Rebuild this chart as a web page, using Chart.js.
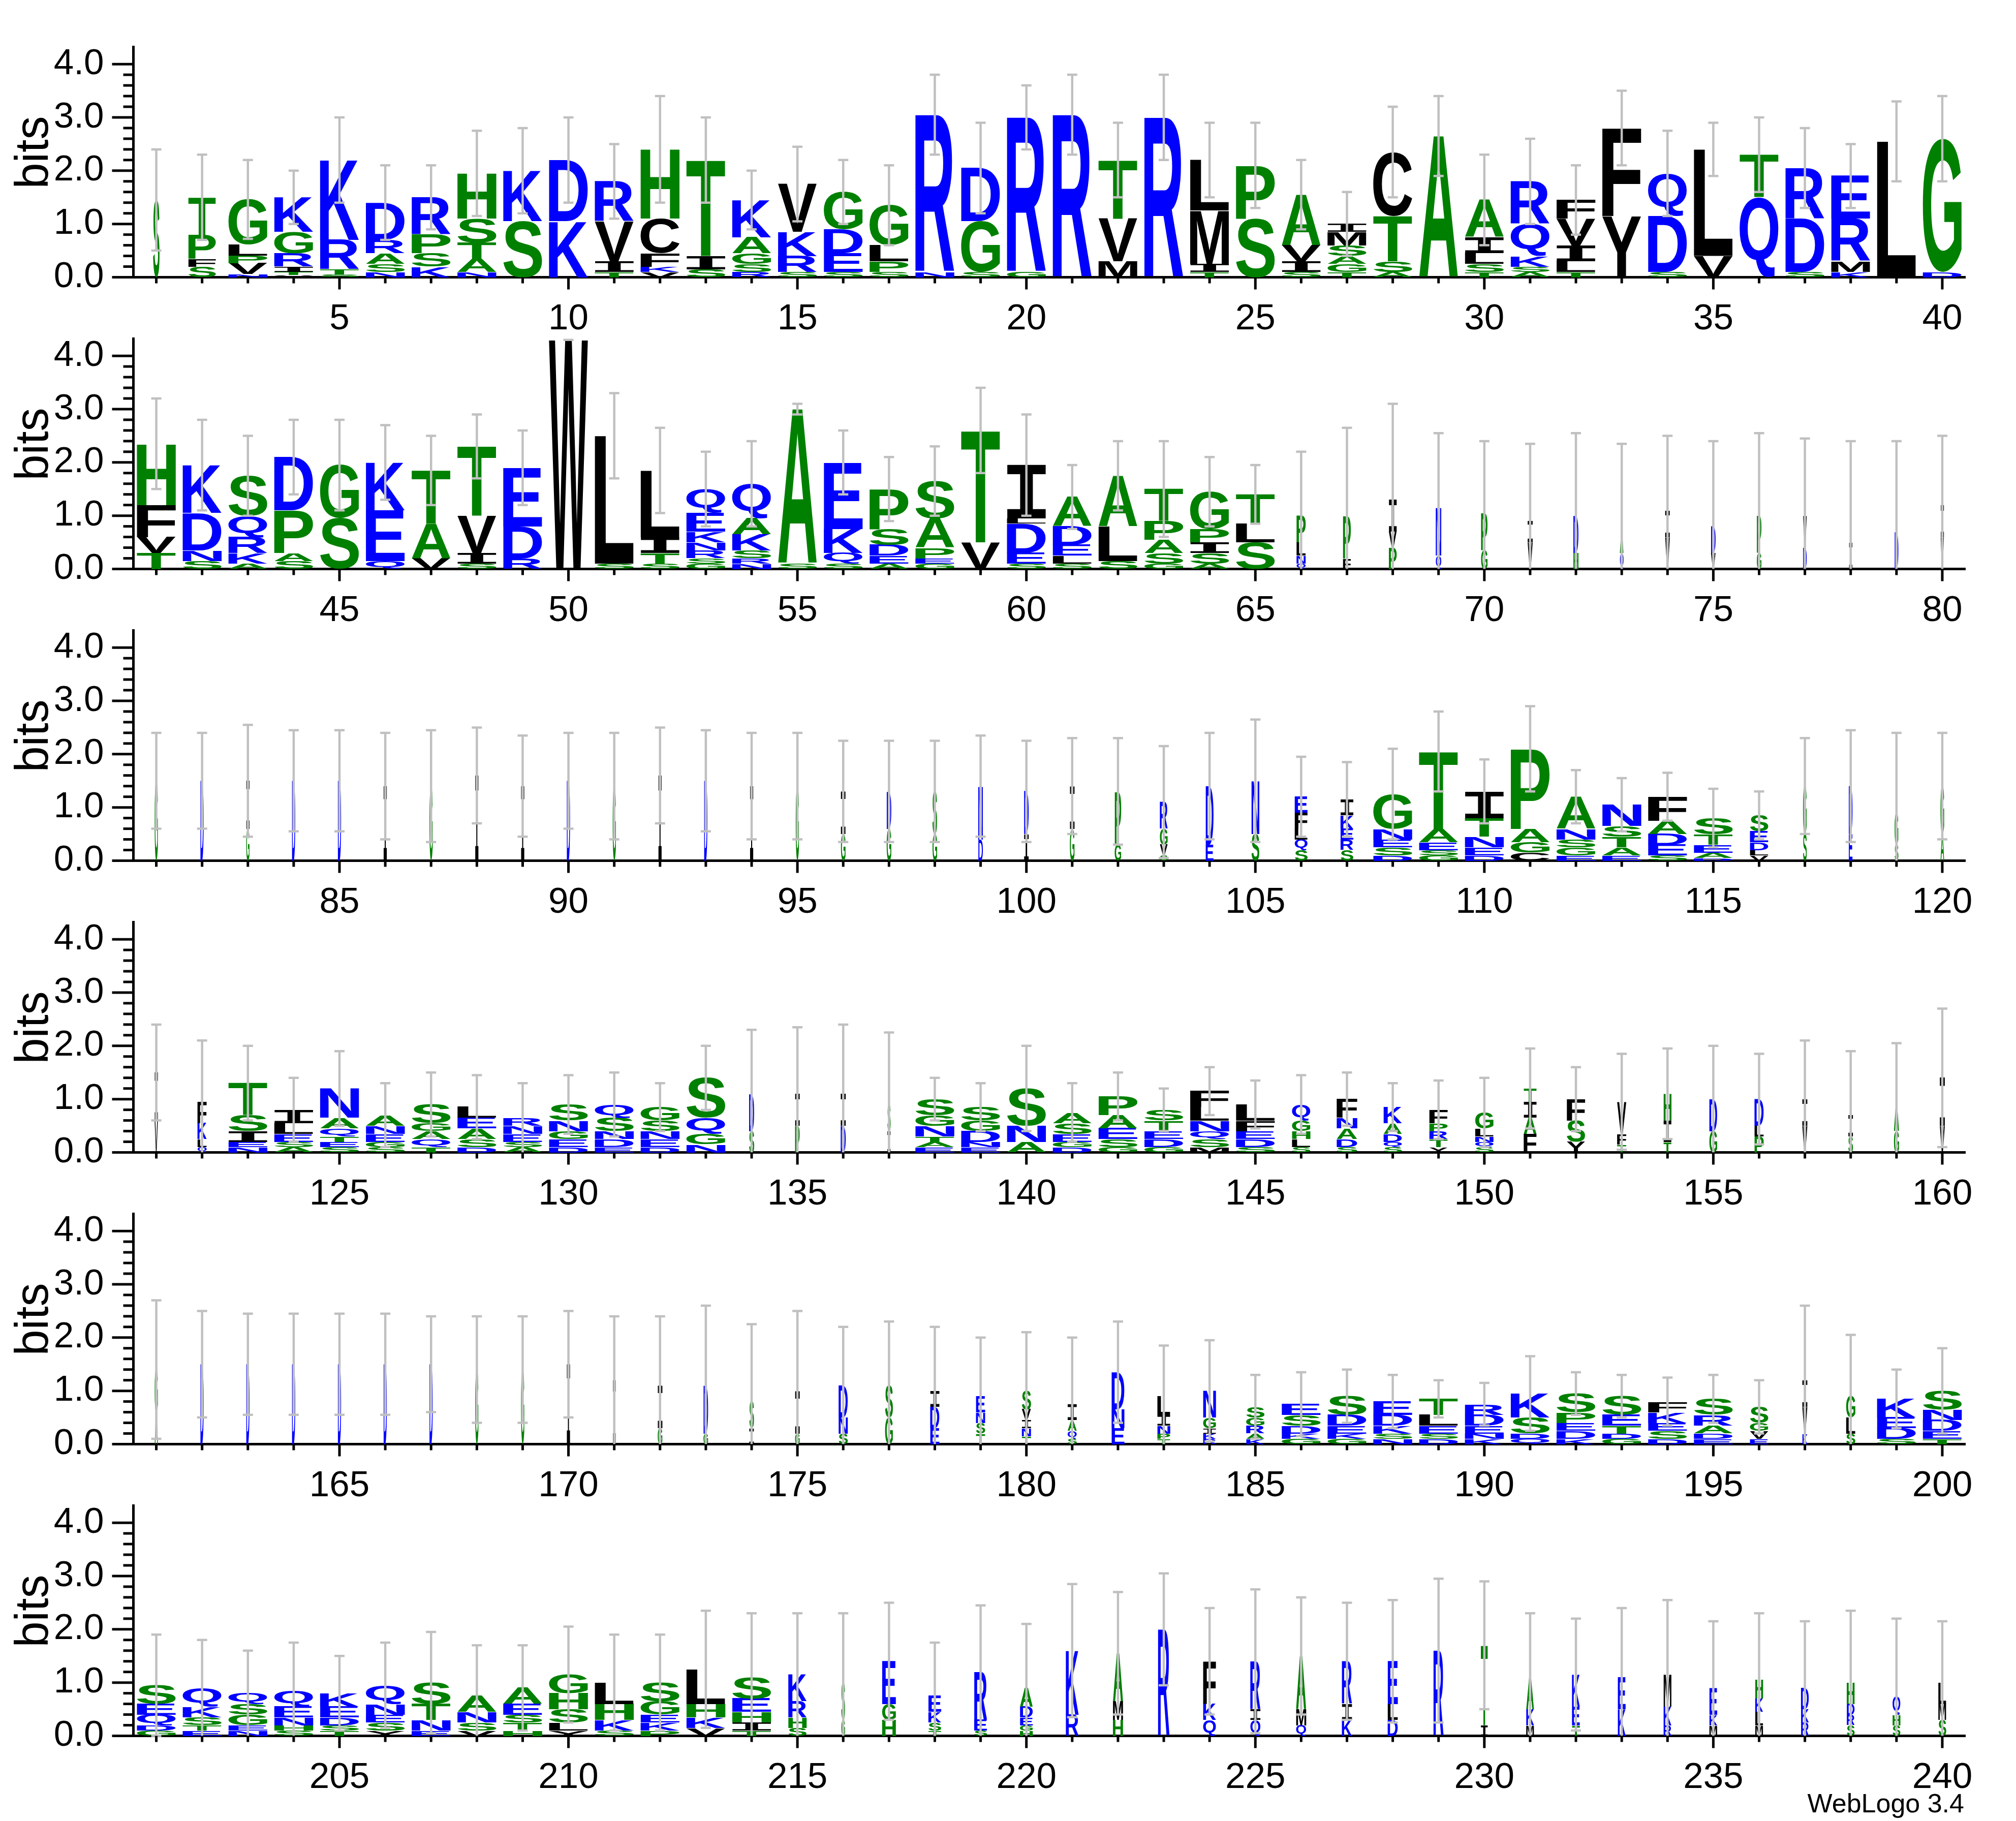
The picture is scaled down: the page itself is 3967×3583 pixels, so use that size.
<!DOCTYPE html>
<html>
<head>
<meta charset="utf-8">
<script src="https://cdn.jsdelivr.net/npm/chart.js@4"></script>
<style>
  body { margin: 0; background: #fff; }
  #wrap { position: relative; width: 3967px; height: 3583px; }
  .row { position: absolute; left: 0; width: 3967px; height: 660px; }
  #credit { position: absolute; right: 102px; top: 3518px; font: 52px "Liberation Sans", Arial, sans-serif; color: #000; }
</style>
</head>
<body>
<div id="wrap">
  <div class="row" style="top:0px"><canvas id="r0"></canvas></div>
  <div class="row" style="top:574px"><canvas id="r1"></canvas></div>
  <div class="row" style="top:1148px"><canvas id="r2"></canvas></div>
  <div class="row" style="top:1722px"><canvas id="r3"></canvas></div>
  <div class="row" style="top:2296px"><canvas id="r4"></canvas></div>
  <div class="row" style="top:2870px"><canvas id="r5"></canvas></div>
  <div id="credit">WebLogo 3.4</div>
</div>
<script>
// each column: "width|Letter height ..." listed top to bottom (width optional, heights in bits)
const row1 = ['.14|S1.45','.6|T.7 P.45 F.15 S.2','G.85 L.2 P.15 V.2 N.06','K.65 G.4 R.25 I.1 T.06 V.04','K1.5 R.55 T.1 S.05',
  'D.7 R.25 A.2 S.15 N.1','R.7 P.35 S.25 K.2','H.85 S.45 T.3 A.25 N.1','K.95 S1.05','D1.15 K1.05',
  'R.75 V.75 I.2 T.1','H1.3 C.65 F.25 K.1 V.1','T1.8 I.25 S.15','K.7 A.3 G.2 S.15 R.1','V.9 K.45 R.3 S.1',
  'G.7 D.45 E.35 S.1','G.75 L.3 P.2 S.1','R2.95 N.1','D1.0 G.95 S.1','R2.9 G.1',
  'R3.05','T1.1 V.8 M.3','R3.0','L.95 M1.0 I.15 T.1','P1.0 S1.1',
  'A.95 V.3 I.2 S.1','I.15 M.25 S.2 A.15 G.15 T.1','C1.2 T.85 S.2 A.1','A2.65','A.7 I.3 L.2 S.15 T.1',
  'R.8 Q.6 K.2 S.1 A.1','F.35 V.5 I.3 L.2 T.1','F1.65 Y1.15','Q.8 D1.05 S.1','L2.0 V.4',
  'T.8 Q1.5','R.95 D1.0 S.1','E.8 R.8 M.2 K.1','L2.55','G2.5 D.1'];
const err1 = [2.4,2.3,2.2,2.0,3.0,2.1,2.1,2.75,2.8,3.0,2.5,3.4,3.0,2.0,2.45,2.2,2.1,3.8,2.9,3.6,
  3.8,2.9,3.8,2.9,2.9,2.2,1.6,3.2,3.4,2.3,2.6,2.1,3.5,2.75,2.9,3.0,2.8,2.5,3.3,3.4];

const row2 = ['H1.15 F.6 V.3 T.3','K.9 D.7 N.2 S.15','S.75 Q.4 R.3 K.2 A.1','D1.0 P.8 A.15 S.15','G1.0 S.95',
  'K.9 E.95 Q.15','T1.0 A.65 V.2','T1.3 V.7 I.2 S.1','E1.1 D.6 R.2','W4.3',
  'L2.4 S.1','L1.25 I.3 T.2 S.1','Q.45 E.35 K.2 N.15 R.15 S.1 G.1','Q.65 A.3 K.3 S.15 R.1 N.1','A2.9 S.1',
  'E1.25 K.45 Q.2 S.1','P.75 S.3 D.2 E.15 A.1','S.7 A.55 P.2 E.1 G.1','T2.1 V.5','I1.0 L.1 D.55 E.2 S.1',
  'A.55 D.35 E.2 L.15 S.1','A.95 L.65 S.15','T.6 P.35 A.25 S.2 G.1','G.7 P.25 I.2 S.2 A.1','T.55 L.35 S.5',
  '.2|P.5 L.25 N.15 Q.1','.17|P.8 F.2','.17|I.6 V.3 P.4','.12|N.9 Q.25','.14|P.7 G.35',
  '.11|I.4 V.5','.11|D.7 H.3','.08|A.4 Q.3','.1|I.5 V.6','.1|D.5 V.3',
  '.1|P.7 G.3','.08|V.6 D.4','.07|I.5','.08|D.7','.07|I.6 V.6'];
const err2 = [3.2,2.8,2.5,2.8,2.8,2.7,2.5,2.9,2.6,4.3,3.3,2.65,2.2,2.4,3.1,2.6,2.1,2.3,3.4,2.9,
  1.95,2.4,2.4,2.1,1.95,2.2,2.65,3.1,2.55,2.4,2.35,2.55,2.35,2.5,2.4,2.55,2.45,2.4,2.4,2.5];

const row3 = ['.07|G1.5','.07|D1.5','.07|I.9 G.6','.07|D1.5','.07|D1.5',
  '.07|I1.4','.07|G1.4','.07|I1.6','.07|I1.4','.07|D1.5',
  '.07|G1.4','.07|I1.6','.07|D1.5','.07|I1.4','.07|G1.4',
  '.1|I.8 G.5','.1|D.7 G.6','.1|S.8 G.5','.1|N1.0 D.4','.1|D.8 I.5',
  '.1|I.8 G.6','.14|P1.0 G.3','.17|R.5 G.3 V.2 S.1','.17|D1.1 E.3','.17|N1.0 S.5',
  '.28|E.3 F.3 L.2 Q.2 S.2','.28|I.3 K.25 E.2 R.2 S.2','G.65 N.2 E.15 S.15 D.1','T1.45 A.25 E.15 S.1 G.1','I.5 T.35 N.2 E.15 D.1',
  'P1.5 A.25 G.2 C.15','A.6 N.2 S.15 G.15 E.1','N.4 S.2 T.2 A.15 E.1','F.45 A.25 D.2 E.2 S.1','S.3 T.2 E.15 A.1 D.05',
  '.4|S.3 E.2 D.15 L.1 V.1','.08|G.9 S.5','.08|D.9 E.5','.08|G.6 S.3','.08|G.9 A.5'];
const err3 = [2.4,2.4,2.55,2.45,2.45,2.4,2.45,2.5,2.35,2.4,2.4,2.5,2.45,2.4,2.4,2.25,2.25,2.25,2.35,2.25,
  2.3,2.3,2.15,2.4,2.65,1.95,1.85,2.1,2.8,1.9,2.9,1.7,1.55,1.65,1.35,1.3,2.3,2.45,2.4,2.4];

const row4 = ['.07|I.9 V.6','.2|F.4 K.3 L.15 Q.1','T.6 S.3 I.2 E.1 N.1','I.25 L.2 E.15 S.1 A.1','N.55 A.2 Q.15 T.1 E.1 S.1',
  'A.2 N.15 E.15 G.1 S.1','S.35 G.15 A.15 Q.15 T.1','L.2 E.2 A.2 S.15 D.1','R.15 N.15 E.15 S.1 A.1','S.3 N.2 G.15 E.15 D.1',
  'Q.25 S.25 N.15 D.15 E.1','G.25 S.2 N.15 E.15 D.1','S.75 Q.3 G.2 N.15','.11|D.7 S.4','.1|I.6 P.5',
  '.11|I.6 D.5','.07|S.5 I.4','S.3 G.2 N.2 T.1 A.1 E.1','S.25 G.2 D.2 N.1 E.1','S.7 N.3 A.2',
  'A.2 S.2 E.15 G.1 D.1','P.35 A.25 E.2 S.15 G.1','S.2 T.2 E.15 D.15 G.1','F.3 L.25 N.2 Q.15 S.15 M.1','L.3 F.2 E.15 D.15 S.1',
  '.4|Q.3 G.2 H.15 L.15 S.1','.45|F.35 N.2 A.2 D.15 S.1','.4|K.3 A.2 D.15 Q.1 S.1','.4|F.25 P.15 R.15 T.15 Y.1','.4|G.3 L.15 N.1 Q.1 S.1',
  '.28|T.25 I.3 A.3 F.35','.4|F.4 S.4 Y.2','.2|V.6 F.2 T.15','.17|H.5 I.4 T.2','.17|D.6 G.4',
  '.2|D.5 L.2 P.3','.11|I.5 V.5','.1|I.4 S.3','.11|A.5 G.4','.11|I.9 V.5'];
const err4 = [2.4,2.1,2.0,1.4,1.9,1.3,1.5,1.45,1.3,1.45,1.5,1.3,2.0,2.3,2.35,2.4,2.25,1.4,1.3,2.0,
  1.3,1.5,1.2,1.6,1.35,1.45,1.5,1.3,1.35,1.4,1.95,1.6,1.85,1.95,2.0,1.85,2.1,1.9,2.05,2.7];

const row5 = ['.07|G.8 A.6','.07|D1.5','.07|D1.5','.07|D1.5','.07|D1.5',
  '.07|D1.5','.07|D1.5','.07|G1.4','.07|G1.4','.07|I1.5',
  '.06|I1.2','.1|I.8 G.3','.1|D.9 G.2','.1|S.5 I.3','.1|I.8 G.2',
  '.2|D.6 N.3 S.2','.17|S.6 G.5','.2|I.3 D.4 E.3','.2|E.3 N.2 S.2 T.2','.2|S.35 V.2 I.15 N.15 T.15',
  '.2|I.3 A.2 Q.15 S.1','.28|D.7 N.35 E.3','.28|L.35 I.2 N.15 P.1 T.1','.28|N.5 G.2 I.1 K.1 R.1','.4|S.2 G.15 R.15 A.1 K.1',
  'E.2 S.2 D.15 K.1 G.1','S.35 D.2 E.15 K.1 G.1','E.25 D.2 K.15 S.1 N.1','T.3 L.2 E.15 S.1 D.1','R.2 D.2 E.15 N.1 K.1',
  'K.45 S.3 D.1 Q.1','S.35 P.2 E.15 D.15 K.1','S.35 E.2 T.15 D.1 G.1','F.2 K.2 E.15 S.15 D.1','S.3 R.2 A.15 D.1 E.1',
  '.4|S.3 G.15 V.15 E.1','.11|I.5 V.5 K.2','.2|G.4 L.3 S.2','K.35 E.2 D.2 S.1','S.35 N.2 D.2 E.15 T.1'];
const err5 = [2.7,2.5,2.45,2.45,2.45,2.45,2.4,2.4,2.4,2.5,2.4,2.4,2.6,2.25,2.5,2.2,2.3,2.2,2.0,2.1,
  2.0,2.3,1.85,1.95,1.3,1.35,1.4,1.3,1.2,1.15,1.65,1.35,1.3,1.25,1.3,1.2,2.6,2.05,1.4,1.8];

const row6 = ['S.35 E.2 Q.2 D.1 G.1','Q.35 K.2 S.15 T.1 E.1','Q.2 S.2 G.2 E.1 N.1','Q.3 E.2 N.15 H.1 S.1','K.25 E.2 D.15 S.1 T.1',
  'Q.35 N.2 E.15 S.15 Y.1','S.4 T.3 N.2 E.1','A.3 N.2 S.15 V.1','A.3 E.2 S.15 T.15 H.1','G.35 H.3 S.25 L.15 Y.1',
  'L.4 H.3 K.2 S.1','S.35 G.25 E.15 K.15 P.1','L.65 H.25 K.2 V.15','S.4 E.25 H.2 I.15 T.1','.4|K.5 R.3 H.2 S.15',
  '.08|S.7 G.3','.3|E.8 G.3 H.3','.28|E.3 K.2 S.15 T.1','.28|R.9 E.2 S.1','.28|A.35 D.2 E.15 G.1 H.1',
  '.28|K1.2 R.4','.22|A.9 M.35 H.3','.25|R2.0','.28|F.8 K.3 Q.3','.22|R.9 I.2 Q.3',
  '.22|A1.0 M.3 Q.2','.22|R.8 I.3 K.3','.22|E.8 L.3 D.3','.22|R1.6','.15|T1.5 I.2',
  '.17|A.6 K.3 M.2','.17|K.6 E.35 T.2','.17|E.6 K.5','.17|M.6 K.35 R.2','.17|E.5 K.2 M.2',
  '.17|H.35 K.25 L.25 M.2','.17|D.4 K.25 R.25','.17|H.4 D.2 R.2 S.2','.17|Q.35 H.2 S.2','.17|L.4 M.3 S.3'];
const err6 = [1.9,1.8,1.6,1.75,1.5,1.75,1.95,1.7,1.7,2.05,1.9,1.9,2.35,2.3,2.3,2.3,2.5,1.75,2.45,2.1,
  2.85,2.7,3.05,2.4,2.75,2.6,2.5,2.55,2.95,2.9,2.3,2.2,2.4,2.55,2.15,2.3,2.15,2.35,2.2,2.15];

const rows = [row1, row2, row3, row4, row5, row6];
const errs = [err1, err2, err3, err4, err5, err6];

const BLUE = '#0000ff', GREEN = '#008000', BLACK = '#000000';
function letterColor(l) {
  if ('RKDENQ'.includes(l)) return BLUE;
  if ('SGHTAP'.includes(l)) return GREEN;
  return BLACK;
}

function parseCol(s) {
  let w = 0.85, body = s;
  if (s.includes('|')) { const p = s.split('|'); w = parseFloat(p[0]); body = p[1]; }
  const items = body.split(' ').map(t => ({ l: t[0], h: parseFloat(t.slice(1)) }));
  items.reverse(); // stack from the bottom up
  return { w, items };
}

function drawGlyph(ctx, L, x, top, w, h, color) {
  ctx.save();
  // serifed I like the weblogo glyph
  ctx.font = L === 'I' ? 'bold 200px "DejaVu Sans Mono", monospace' : 'bold 200px "Liberation Sans", Arial, sans-serif';
  const m = ctx.measureText(L);
  const gw = m.actualBoundingBoxLeft + m.actualBoundingBoxRight;
  const gh = m.actualBoundingBoxAscent + m.actualBoundingBoxDescent;
  ctx.translate(x, top);
  ctx.scale(w / gw, h / gh);
  ctx.fillStyle = color;
  ctx.fillText(L, m.actualBoundingBoxLeft, m.actualBoundingBoxAscent);
  ctx.restore();
}

const logoPlugin = {
  id: 'logo',
  afterDatasetsDraw(chart, args, opts) {
    const ctx = chart.ctx, xs = chart.scales.x, ys = chart.scales.y;
    const slot = xs.width / 40;
    chart.data.datasets.forEach((ds, k) => {
      chart.getDatasetMeta(k).data.forEach((bar, i) => {
        const L = ds.letters[i];
        if (!L) return;
        const h = bar.base - bar.y;
        if (h < 0.5) return;
        const w = slot * opts.widths[i];
        drawGlyph(ctx, L, bar.x - w / 2, bar.y, w, h, letterColor(L));
      });
    });
    // error bars
    ctx.save();
    ctx.strokeStyle = '#c0c0c0';
    ctx.lineWidth = 4.5;
    opts.totals.forEach((t, i) => {
      const x = xs.getPixelForValue(i);
      const hi = opts.errs[i], lo = Math.max(0, 2 * t - hi);
      const y1 = ys.getPixelForValue(Math.min(hi, 4.32)), y0 = ys.getPixelForValue(lo);
      ctx.beginPath();
      ctx.moveTo(x, y0); ctx.lineTo(x, y1);
      ctx.moveTo(x - 10, y1); ctx.lineTo(x + 10, y1);
      if (lo > 0) { ctx.moveTo(x - 10, y0); ctx.lineTo(x + 10, y0); }
      ctx.stroke();
    });
    ctx.restore();
  },
  afterDraw(chart, args, opts) {
    const ctx = chart.ctx, xs = chart.scales.x, ys = chart.scales.y;
    ctx.save();
    ctx.strokeStyle = '#000';
    ctx.lineWidth = 5;
    const base = ys.getPixelForValue(0);
    for (let i = 0; i < 40; i++) {
      const x = xs.getPixelForValue(i);
      const major = (opts.offset + i + 1) % 5 === 0;
      ctx.beginPath(); ctx.moveTo(x, base); ctx.lineTo(x, base + (major ? 24 : 12)); ctx.stroke();
    }
    const left = chart.chartArea.left;
    for (let j = 0; j <= 20; j++) {
      const y = ys.getPixelForValue(j * 0.2);
      ctx.beginPath(); ctx.moveTo(left, y); ctx.lineTo(left - (j % 5 === 0 ? 42 : 20), y); ctx.stroke();
    }
    ctx.fillStyle = '#000';
    ctx.font = '92px "Liberation Sans", Arial, sans-serif';
    ctx.translate(69, 300);
    ctx.rotate(-Math.PI / 2);
    ctx.textAlign = 'center';
    ctx.textBaseline = 'middle';
    ctx.fillText('bits', 0, 0);
    ctx.restore();
  }
};

rows.forEach((row, r) => {
  const offset = r * 40;
  const cols = row.map(parseCol);
  const labels = cols.map((c, i) => String(offset + i + 1));
  const maxK = Math.max(...cols.map(c => c.items.length));
  const datasets = [];
  for (let k = 0; k < maxK; k++) {
    datasets.push({
      data: cols.map(c => c.items[k] ? c.items[k].h : 0),
      letters: cols.map(c => c.items[k] ? c.items[k].l : null),
      backgroundColor: 'rgba(0,0,0,0)',
      borderWidth: 0,
      categoryPercentage: 1,
      barPercentage: 1
    });
  }
  const totals = cols.map(c => c.items.reduce((s, it) => s + it.h, 0));

  new Chart(document.getElementById('r' + r), {
    type: 'bar',
    data: { labels, datasets },
    options: {
      responsive: true,
      maintainAspectRatio: false,
      animation: false,
      devicePixelRatio: 1,
      layout: { padding: { top: 55, right: 100, left: 0, bottom: 0 } },
      plugins: {
        legend: { display: false },
        tooltip: { enabled: false },
        logo: { widths: cols.map(c => c.w), totals, errs: errs[r], offset }
      },
      scales: {
        x: {
          stacked: true,
          grid: { display: false },
          border: { display: true, color: '#000', width: 5 },
          ticks: {
            autoSkip: false, maxRotation: 0, padding: 32, color: '#000',
            font: { family: '"Liberation Sans", Arial, sans-serif', size: 71 },
            callback: (v, i) => (offset + i + 1) % 5 === 0 ? String(offset + i + 1) : ''
          },
          afterFit: s => { s.height = 114.5; }
        },
        y: {
          stacked: true,
          min: 0, max: 4.32,
          grid: { display: false },
          border: { display: true, color: '#000', width: 5 },
          afterBuildTicks: s => { s.ticks = [0, 1, 2, 3, 4].map(v => ({ value: v })); },
          ticks: {
            padding: 50, color: '#000',
            font: { family: '"Liberation Sans", Arial, sans-serif', size: 71 },
            callback: v => v.toFixed(1)
          },
          afterFit: s => { s.width = 262.5; }
        }
      }
    },
    plugins: [logoPlugin]
  });
});
</script>
</body>
</html>
